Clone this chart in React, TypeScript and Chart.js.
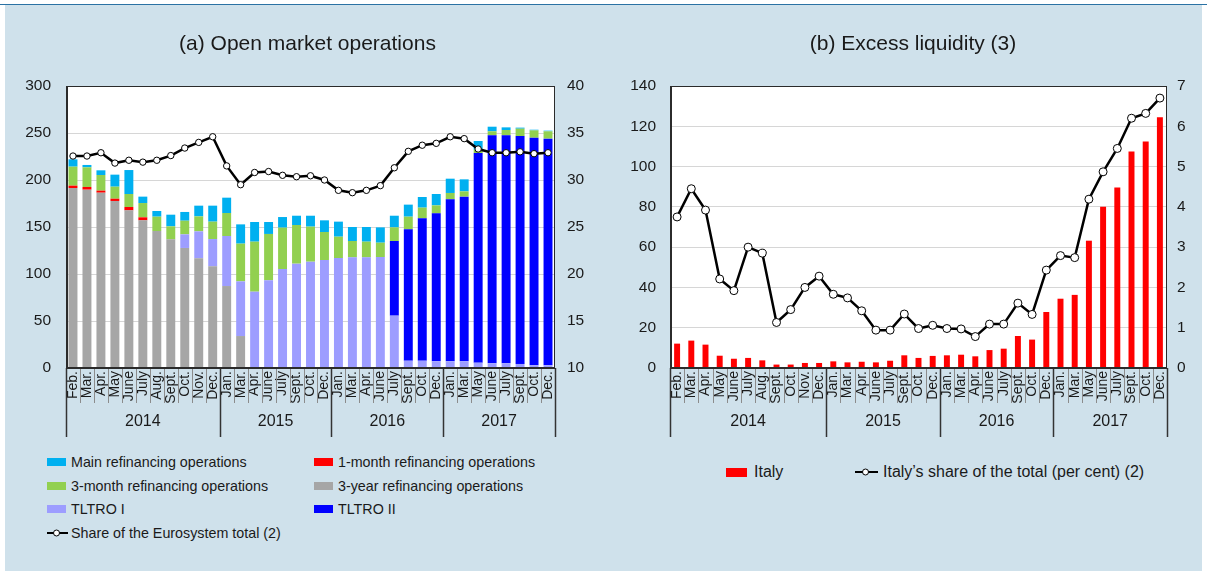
import React, { useEffect, useRef } from 'react';
import { Chart, registerables } from 'chart.js';

Chart.register(...registerables);

// ---------- data ----------
const monthLabels = [
  'Feb.', 'Mar.', 'Apr.', 'May', 'June', 'July', 'Aug.', 'Sept.', 'Oct.', 'Nov.', 'Dec.',
  'Jan.', 'Mar.', 'Apr.', 'June', 'July', 'Sept.', 'Oct.', 'Dec.',
  'Jan.', 'Mar.', 'Apr.', 'June', 'July', 'Sept.', 'Oct.', 'Dec.',
  'Jan.', 'Mar.', 'May', 'June', 'July', 'Sept.', 'Oct.', 'Dec.',
];
const yearLabels = ['2014', '2015', '2016', '2017'];
const yearSpans = [11, 8, 8, 8];

// (a) Open market operations (billions of euros, stacked)
const threeYearOps = [191.5, 189.7, 186.5, 177.7, 167.7, 157.1, 145.7, 136.9, 127.7, 116.7, 108.2, 87.2, 34.0,
  0, 0, 0, 0, 0, 0, 0, 0, 0, 0, 0, 0, 0, 0, 0, 0, 0, 0, 0, 0, 0, 0];
const oneMonthOps = [2.5, 2.9, 2.2, 2.4, 3.6, 3.2, 0, 0, 0, 0, 0, 0, 0, 0, 0, 0, 0, 0, 0, 0, 0, 0, 0, 0, 0, 0, 0, 0, 0, 0, 0, 0, 0, 0, 0];
const tltroOne = [0, 0, 0, 0, 0, 0, 0, 0, 14.5, 28.7, 29.0, 53.2, 58.2, 81.2, 93.3, 105.3, 111.0, 113.1, 114.9,
  117.0, 117.7, 117.7, 118.1, 55.7, 7.8, 7.8, 7.1, 7.1, 7.1, 5.7, 5.0, 5.0, 4.3, 2.8, 2.8];
const tltroTwo = [0, 0, 0, 0, 0, 0, 0, 0, 0, 0, 0, 0, 0, 0, 0, 0, 0, 0, 0, 0, 0, 0, 0,
  79.4, 139.7, 151.4, 157.4, 172.3, 175.2, 223.0, 242.5, 242.5, 242.5, 242.2, 241.2];
const threeMonthOps = [20.2, 20.9, 16.6, 12.8, 13.8, 15.2, 15.3, 13.8, 14.5, 15.9, 18.5, 24.5, 40.1, 53.2, 49.3,
  44.0, 41.1, 37.3, 29.8, 22.7, 17.4, 16.7, 15.2, 14.5, 13.5, 11.4, 8.5, 6.8, 5.6, 3.6, 4.3, 5.7, 7.8, 7.8, 7.8];
const mainRefiOps = [7.8, 2.5, 5.0, 12.8, 25.5, 6.8, 6.0, 12.4, 9.3, 11.4, 17.0, 16.3, 20.5, 20.9, 12.7, 11.3,
  9.9, 11.6, 12.4, 16.0, 14.9, 15.6, 16.3, 12.4, 12.8, 11.3, 12.1, 15.2, 12.8, 9.2, 4.9, 2.8, 1.1, 0.7, 0.7];
const eurosystemShare = [32.55, 32.55, 32.9, 31.8, 32.1, 31.9, 32.1, 32.6, 33.4, 34.0, 34.6, 31.5, 29.5, 30.8,
  30.9, 30.5, 30.35, 30.45, 30.0, 28.9, 28.65, 28.9, 29.4, 31.3, 33.05, 33.7, 33.9, 34.6, 34.4, 33.3, 32.9,
  32.9, 33.0, 32.8, 32.9];

// (b) Excess liquidity
const italyExcess = [12.1, 13.6, 11.6, 6.1, 4.6, 5.0, 3.8, 1.7, 1.7, 2.5, 2.5, 3.3, 2.8, 3.1, 2.8, 3.6, 6.3,
  5.0, 6.0, 6.3, 6.6, 5.8, 8.9, 9.6, 15.9, 14.1, 27.8, 34.4, 36.3, 63.2, 80.1, 89.6, 107.5, 112.4, 124.5];
const italyShare = [3.75, 4.45, 3.92, 2.21, 1.92, 3.0, 2.85, 1.13, 1.45, 2.0, 2.28, 1.83, 1.74, 1.42, 0.94,
  0.94, 1.34, 0.98, 1.06, 0.98, 0.97, 0.78, 1.09, 1.09, 1.61, 1.33, 2.43, 2.79, 2.74, 4.19, 4.87, 5.45, 6.2,
  6.32, 6.7];

// ---------- styling ----------
const FONT = '"Liberation Sans", Arial, Helvetica, sans-serif';
const TEXT = '#1a1a1a';
const BG = '#cfe1eb';
const C_MRO = '#00b0f0';
const C_1M = '#ff0000';
const C_3M = '#92d050';
const C_3Y = '#a6a6a6';
const C_T1 = '#9d9dff';
const C_T2 = '#0000ff';
const C_IT = '#ff0000';

const decorPlugin = {
  id: 'decor',
  beforeDraw(chart: any) {
    const { ctx, chartArea: a } = chart;
    ctx.save();
    ctx.fillStyle = '#ffffff';
    ctx.fillRect(a.left, a.top, a.right - a.left, a.bottom - a.top);
    ctx.restore();
  },
  afterDraw(chart: any) {
    const { ctx, chartArea: a } = chart;
    const xs = chart.scales.x;
    const n = chart.data.labels.length;
    const half = (xs.getPixelForValue(1) - xs.getPixelForValue(0)) / 2;
    const bx = (b: number) => (b <= 0 ? a.left : b >= n ? a.right : xs.getPixelForValue(b) - half);
    ctx.save();
    // month separators
    ctx.strokeStyle = '#8c8c8c';
    ctx.lineWidth = 1;
    for (let b = 1; b < n; b++) {
      const px = Math.round(bx(b)) + 0.5;
      ctx.beginPath();
      ctx.moveTo(px, a.bottom);
      ctx.lineTo(px, a.bottom + 35);
      ctx.stroke();
    }
    // year separators + labels
    let start = 0;
    const bounds = [0];
    yearSpans.forEach((s) => { start += s; bounds.push(start); });
    ctx.strokeStyle = '#333333';
    ctx.lineWidth = 1.5;
    bounds.forEach((b) => {
      const px = Math.round(bx(b)) + 0.5;
      ctx.beginPath();
      ctx.moveTo(px, a.bottom);
      ctx.lineTo(px, a.bottom + 69);
      ctx.stroke();
    });
    ctx.fillStyle = TEXT;
    ctx.font = `16px ${FONT}`;
    ctx.textAlign = 'center';
    ctx.textBaseline = 'middle';
    yearLabels.forEach((lab, i) => {
      ctx.fillText(lab, (bx(bounds[i]) + bx(bounds[i + 1])) / 2, a.bottom + 54);
    });
    // frame
    ctx.strokeStyle = '#2b2b2b';
    ctx.lineWidth = 1;
    ctx.strokeRect(a.left + 0.5, a.top + 0.5, a.right - a.left - 1, a.bottom - a.top);
    ctx.lineWidth = 2;
    ctx.beginPath();
    ctx.moveTo(a.left + 1, a.top);
    ctx.lineTo(a.left + 1, a.bottom);
    ctx.stroke();
    ctx.beginPath();
    ctx.moveTo(a.left, a.bottom);
    ctx.lineTo(a.right, a.bottom);
    ctx.stroke();
    ctx.restore();
  },
};

function xScale() {
  return {
    stacked: true,
    offset: true,
    grid: { display: false, drawTicks: false },
    border: { display: false },
    ticks: {
      autoSkip: false,
      minRotation: 90,
      maxRotation: 90,
      padding: 3,
      font: { size: 14, family: FONT },
      color: TEXT,
    },
    afterFit: (s: any) => { s.height = 70; },
  };
}

function yScale(pos: 'left' | 'right', min: number, max: number, step: number, pad: number, width: number, grid: boolean, stacked: boolean) {
  return {
    position: pos,
    stacked,
    min,
    max,
    ticks: { stepSize: step, padding: pad, font: { size: 15.5, family: FONT }, color: TEXT },
    grid: grid ? { color: '#d6d6d6', lineWidth: 1, drawTicks: false } : { display: false, drawTicks: false },
    border: { display: false },
    afterFit: (s: any) => { s.width = width; },
  };
}

function titleOpt(text: string) {
  return {
    display: true,
    text,
    color: TEXT,
    font: { size: 21, family: FONT, weight: 'normal' as any },
    padding: { top: 31.4, bottom: 29.4 },
  };
}

function bar(label: string, data: number[], color: string, pct: number) {
  return {
    type: 'bar' as const,
    label,
    data,
    backgroundColor: color,
    borderWidth: 0,
    yAxisID: 'y',
    categoryPercentage: 1,
    barPercentage: pct,
    order: 1,
  };
}

function lineDs(label: string, data: number[], radius: number) {
  return {
    type: 'line' as const,
    label,
    data,
    yAxisID: 'y1',
    borderColor: '#000000',
    borderWidth: 2.5,
    tension: 0,
    pointRadius: radius,
    pointBackgroundColor: '#ffffff',
    pointBorderColor: '#000000',
    pointBorderWidth: 1,
    order: 0,
  };
}

type LegendItem = { label: string; color?: string; line?: boolean; x: number; y: number };

const leftLegend: LegendItem[] = [
  { label: 'Main refinancing operations', color: C_MRO, x: 47, y: 462 },
  { label: '1-month refinancing operations', color: C_1M, x: 314, y: 462 },
  { label: '3-month refinancing operations', color: C_3M, x: 47, y: 485.5 },
  { label: '3-year refinancing operations', color: C_3Y, x: 314, y: 485.5 },
  { label: 'TLTRO I', color: C_T1, x: 47, y: 509 },
  { label: 'TLTRO II', color: C_T2, x: 314, y: 509 },
  { label: 'Share of the Eurosystem total (2)', line: true, x: 47, y: 532.5 },
];

const rightLegend: LegendItem[] = [
  { label: 'Italy', color: C_IT, x: 726, y: 472 },
  { label: 'Italy\u2019s share of the total (per cent) (2)', line: true, x: 855, y: 472 },
];

function LegendEntry({ item, swW, swH, size, gap }: { item: LegendItem; swW: number; swH: number; size: number; gap: number }) {
  return (
    <div style={{ position: 'absolute', left: item.x, top: item.y - 10, height: 20, display: 'flex', alignItems: 'center', whiteSpace: 'nowrap' }}>
      {item.line ? (
        <svg width={swW + 2} height={10} style={{ display: 'block' }}>
          <line x1={0} y1={5} x2={swW + 2} y2={5} stroke="#000" strokeWidth={2} />
          <circle cx={(swW + 2) / 2 - 1} cy={5} r={3} fill="#fff" stroke="#000" strokeWidth={1} />
        </svg>
      ) : (
        <div style={{ width: swW, height: swH, background: item.color }} />
      )}
      <span style={{ marginLeft: item.line ? gap - 2 : gap, fontFamily: FONT, fontSize: size, color: TEXT, lineHeight: '20px' }}>{item.label}</span>
    </div>
  );
}

export default function App() {
  const leftRef = useRef<HTMLCanvasElement>(null);
  const rightRef = useRef<HTMLCanvasElement>(null);

  useEffect(() => {
    const left = new Chart(leftRef.current as HTMLCanvasElement, {
      type: 'bar',
      data: {
        labels: monthLabels,
        datasets: [
          lineDs('Share of the Eurosystem total (2)', eurosystemShare, 3.2),
          bar('3-year refinancing operations', threeYearOps, C_3Y, 0.64),
          bar('1-month refinancing operations', oneMonthOps, C_1M, 0.64),
          bar('TLTRO I', tltroOne, C_T1, 0.64),
          bar('TLTRO II', tltroTwo, C_T2, 0.64),
          bar('3-month refinancing operations', threeMonthOps, C_3M, 0.64),
          bar('Main refinancing operations', mainRefiOps, C_MRO, 0.64),
        ] as any,
      },
      options: {
        responsive: false,
        animation: false,
        devicePixelRatio: 1,
        layout: { padding: { left: 16, right: 1, top: 0, bottom: 12 } },
        plugins: {
          legend: { display: false },
          tooltip: { enabled: false },
          title: titleOpt('(a) Open market operations'),
        },
        scales: {
          x: xScale(),
          y: yScale('left', 0, 300, 50, 15, 50, true, true),
          y1: yScale('right', 10, 40, 5, 12, 44, false, false),
        } as any,
      },
      plugins: [decorPlugin],
    });

    const right = new Chart(rightRef.current as HTMLCanvasElement, {
      type: 'bar',
      data: {
        labels: monthLabels,
        datasets: [
          lineDs('Italy\u2019s share of the total (per cent) (2)', italyShare, 4),
          bar('Italy', italyExcess, C_IT, 0.42),
        ] as any,
      },
      options: {
        responsive: false,
        animation: false,
        devicePixelRatio: 1,
        layout: { padding: { left: 19, right: 0, top: 0, bottom: 12 } },
        plugins: {
          legend: { display: false },
          tooltip: { enabled: false },
          title: titleOpt('(b) Excess liquidity (3)'),
        },
        scales: {
          x: xScale(),
          y: yScale('left', 0, 140, 20, 14, 51, true, false),
          y1: yScale('right', 0, 7, 1, 10, 40, false, false),
        } as any,
      },
      plugins: [decorPlugin],
    });

    return () => {
      left.destroy();
      right.destroy();
    };
  }, []);

  return (
    <div style={{ position: 'absolute', left: 0, top: 0, width: 1207, height: 571, background: '#ffffff', overflow: 'hidden' }}>
      <div style={{ position: 'absolute', left: 0, top: 4, width: 1207, height: 1, background: '#2a72a4' }} />
      <div style={{ position: 'absolute', left: 5, top: 5, width: 1197, height: 566, background: BG }} />
      <canvas ref={leftRef} width={600} height={450} style={{ position: 'absolute', left: 0, top: 0 }} />
      <canvas ref={rightRef} width={607} height={450} style={{ position: 'absolute', left: 600, top: 0 }} />
      {leftLegend.map((it, i) => (
        <LegendEntry key={'l' + i} item={it} swW={19} swH={8} size={14.3} gap={5} />
      ))}
      {rightLegend.map((it, i) => (
        <LegendEntry key={'r' + i} item={it} swW={21} swH={9} size={16} gap={7} />
      ))}
    </div>
  );
}
